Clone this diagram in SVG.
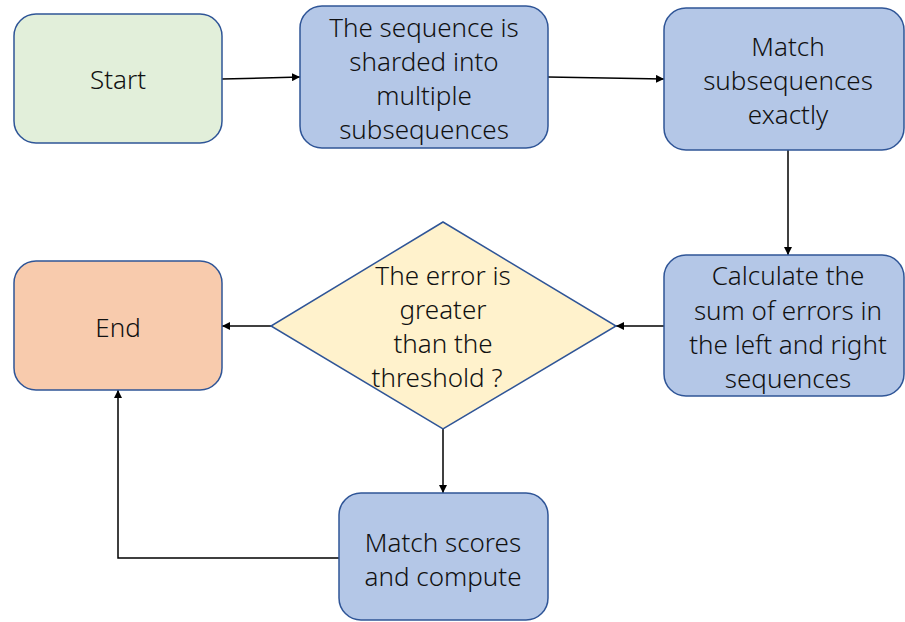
<svg xmlns="http://www.w3.org/2000/svg" width="905" height="622" viewBox="0 0 905 622">
  <style>
    .box { stroke: #2F5597; stroke-width: 1.5; }
    .proc { fill: #B4C7E7; }
    .start { fill: #E2EFDA; }
    .end { fill: #F8CBAD; }
    .dec { fill: #FFF2CC; }
    .lbl { font-family: "Noto Sans", "Open Sans", sans-serif; font-size: 26px; font-weight: 300; fill: #111; text-anchor: middle; }
    .edge { fill: none; stroke: #000; stroke-width: 1.5; }
  </style>
  <defs>
    <marker id="arrow" viewBox="0 0 10 10" refX="10" refY="5" markerWidth="8" markerHeight="8" markerUnits="userSpaceOnUse" orient="auto">
      <path d="M0,0 L10,5 L0,10 Z" fill="#000"/>
    </marker>
  </defs>

  <rect width="905" height="622" fill="#fff"/>

  <g id="connectors">
    <path class="edge" d="M222,79 L300,77" marker-end="url(#arrow)"/>
    <path class="edge" d="M548,77 L664,79" marker-end="url(#arrow)"/>
    <path class="edge" d="M788,150 L788,255" marker-end="url(#arrow)"/>
    <path class="edge" d="M664,326 L616,326" marker-end="url(#arrow)"/>
    <path class="edge" d="M271,326 L222,326" marker-end="url(#arrow)"/>
    <path class="edge" d="M443,428 L443,493" marker-end="url(#arrow)"/>
    <path class="edge" d="M339,558 L118,558 L118,390" marker-end="url(#arrow)"/>
  </g>

  <g id="start">
    <rect class="box start" x="14" y="14" width="208" height="129" rx="22"/>
    <text class="lbl" x="118" y="89">Start</text>
  </g>

  <g id="shard">
    <rect class="box proc" x="300" y="6" width="248" height="142" rx="22"/>
    <text class="lbl" x="424" y="37">The sequence is</text>
    <text class="lbl" x="424" y="71">sharded into</text>
    <text class="lbl" x="424" y="105">multiple</text>
    <text class="lbl" x="424" y="139">subsequences</text>
  </g>

  <g id="match-exact">
    <rect class="box proc" x="664" y="8" width="240" height="142" rx="22"/>
    <text class="lbl" x="788" y="56">Match</text>
    <text class="lbl" x="788" y="90">subsequences</text>
    <text class="lbl" x="788" y="124">exactly</text>
  </g>

  <g id="calc-errors">
    <rect class="box proc" x="664" y="255" width="240" height="141" rx="22"/>
    <text class="lbl" x="788" y="285">Calculate the</text>
    <text class="lbl" x="788" y="320">sum of errors in</text>
    <text class="lbl" x="788" y="354">the left and right</text>
    <text class="lbl" x="788" y="388">sequences</text>
  </g>

  <g id="threshold">
    <polygon class="box dec" points="443,222 616,326 443,429 271,326"/>
    <text class="lbl" x="443" y="285">The error is</text>
    <text class="lbl" x="443" y="319">greater</text>
    <text class="lbl" x="443" y="353">than the</text>
    <text class="lbl" x="437" y="387">threshold ?</text>
  </g>

  <g id="end">
    <rect class="box end" x="14" y="261" width="208" height="129" rx="22"/>
    <text class="lbl" x="118" y="337">End</text>
  </g>

  <g id="match-scores">
    <rect class="box proc" x="339" y="493" width="209" height="127" rx="22"/>
    <text class="lbl" x="443" y="552">Match scores</text>
    <text class="lbl" x="443" y="586">and compute</text>
  </g>
</svg>
